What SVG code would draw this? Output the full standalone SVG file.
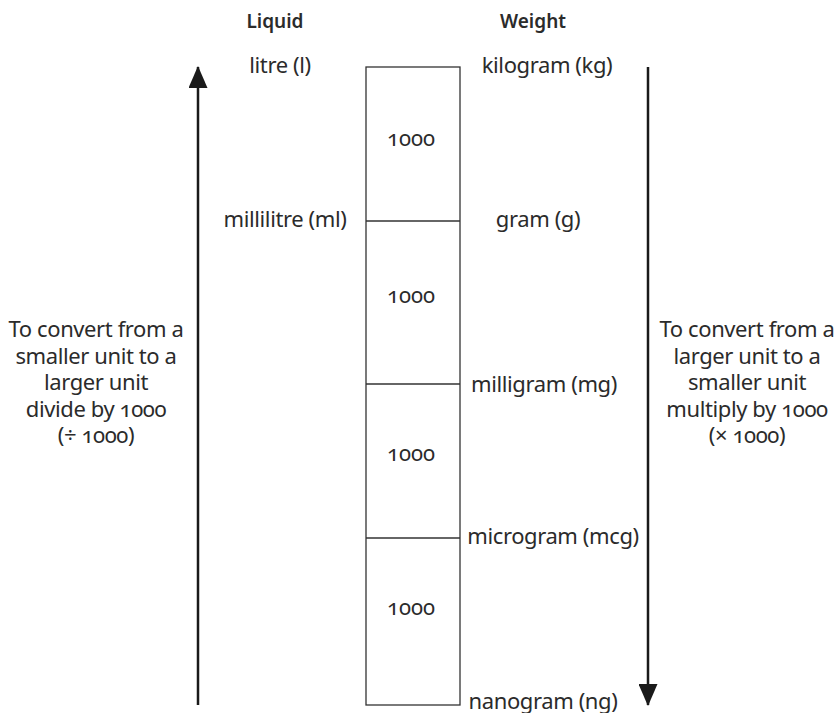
<svg xmlns="http://www.w3.org/2000/svg" width="838" height="713" viewBox="0 0 838 713">
<style>
text{font-family:"Noto Sans","Open Sans",sans-serif;font-size:22px;letter-spacing:-0.4px;fill:#2b2b2b;text-anchor:middle;font-variant-numeric:oldstyle-nums;font-feature-settings:"onum"}
.h{font-weight:600;font-size:19px;letter-spacing:0}
.n{font-size:22px;letter-spacing:0}
.box{fill:none;stroke:#333;stroke-width:1.3}
.arr{stroke:#1a1a1a;stroke-width:2.5;fill:none}
</style>
<defs>
<marker id="ah" viewBox="0 0 22 19" refX="21" refY="9.5" markerWidth="8.8" markerHeight="7.6" markerUnits="strokeWidth" orient="auto">
<path d="M0,0 L22,9.5 L0,19 z" fill="#1a1a1a"/>
</marker>
</defs>
<g id="headers">
<text class="h" x="275" y="28">Liquid</text>
<text class="h" x="533" y="28">Weight</text>
</g>
<g id="scale">
<rect class="box" x="366" y="67" width="94" height="638"/>
<line class="box" x1="366" y1="221" x2="460" y2="221"/>
<line class="box" x1="366" y1="384" x2="460" y2="384"/>
<line class="box" x1="366" y1="538" x2="460" y2="538"/>
<text class="n" x="411" y="146">1000</text>
<text class="n" x="411" y="303">1000</text>
<text class="n" x="411" y="461">1000</text>
<text class="n" x="411" y="615">1000</text>
</g>
<g id="liquid-units">
<text x="280" y="73">litre (l)</text>
<text x="285" y="227">millilitre (ml)</text>
</g>
<g id="weight-units">
<text x="547" y="73">kilogram (kg)</text>
<text x="538" y="227">gram (g)</text>
<text x="544" y="392">milligram (mg)</text>
<text x="553" y="544">microgram (mcg)</text>
<text x="543" y="709">nanogram (ng)</text>
</g>
<g id="connectors">
<line class="arr" x1="198" y1="705" x2="198" y2="67" marker-end="url(#ah)"/>
<line class="arr" x1="648" y1="67" x2="648" y2="705" marker-end="url(#ah)"/>
</g>
<g id="left-note">
<text x="96" y="337">To convert from a</text>
<text x="96" y="363.5">smaller unit to a</text>
<text x="96" y="390">larger unit</text>
<text x="96" y="416.5">divide by 1000</text>
<text x="96" y="443">(÷ 1000)</text>
</g>
<g id="right-note">
<text x="747" y="337">To convert from a</text>
<text x="747" y="363.5">larger unit to a</text>
<text x="747" y="390">smaller unit</text>
<text x="747" y="416.5">multiply by 1000</text>
<text x="747" y="443">(× 1000)</text>
</g>
</svg>
